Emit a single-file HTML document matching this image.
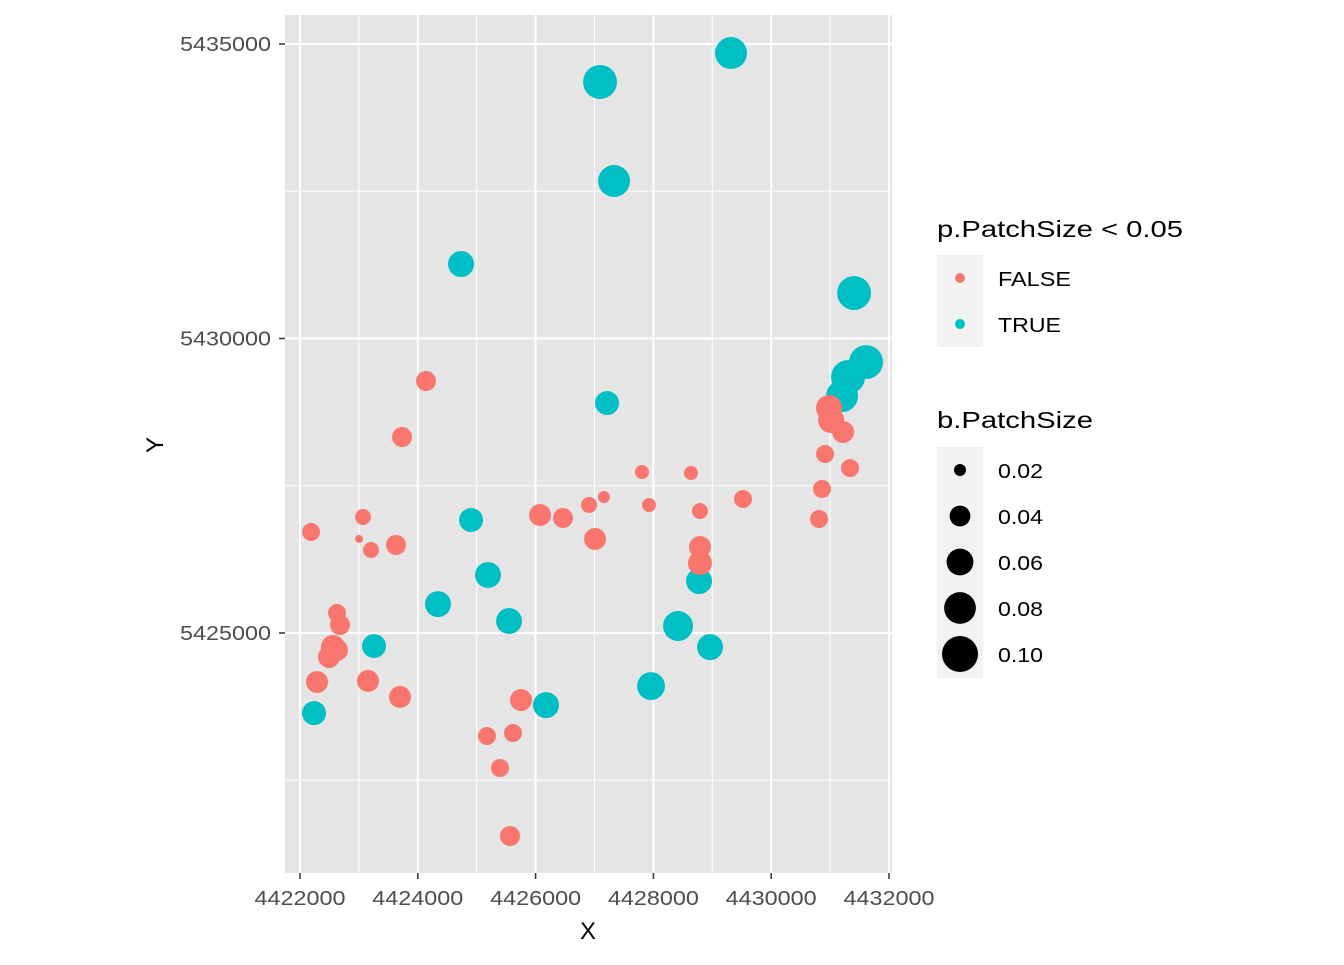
<!DOCTYPE html>
<html><head><meta charset="utf-8"><style>
body{margin:0;background:#fff;}
svg text{font-family:"Liberation Sans",Arial,sans-serif;}
</style></head><body>
<svg id="chart" width="1344" height="960" xmlns="http://www.w3.org/2000/svg">
<rect x="285" y="15" width="607" height="858" fill="#e5e5e5"/>
<g id="grid"></g><g id="points"></g><g id="axes"></g>
<text x="588" y="939" font-size="24" text-anchor="middle">X</text>
<text transform="translate(163,445) rotate(-90)" font-size="24" text-anchor="middle">Y</text>
<g>
<text x="937" y="237" font-size="23" textLength="246" lengthAdjust="spacingAndGlyphs">p.PatchSize &lt; 0.05</text>
<rect x="937" y="255" width="46" height="92" fill="#f2f2f2"/>
<circle cx="960" cy="278" r="5" fill="#F8766D"/>
<text x="998" y="286" font-size="20" textLength="73" lengthAdjust="spacingAndGlyphs">FALSE</text>
<circle cx="960" cy="324" r="5" fill="#00BFC4"/>
<text x="998" y="332" font-size="20" textLength="63" lengthAdjust="spacingAndGlyphs">TRUE</text>
</g>
<g id="sizeLegend">
<text x="937" y="428" font-size="23" textLength="156" lengthAdjust="spacingAndGlyphs">b.PatchSize</text>
<rect x="937" y="447" width="46" height="231" fill="#f2f2f2"/>
</g>
<script>
const sig=[
1,1,1,1,1,1,1,1,1,1,1,1,1,1,1,1,1,1,1,1,
0,0,0,0,0,0,0,0,0,0,0,0,0,0,0,0,0,0,0,0,0,0,0,0,0,0,0,0,0,0,0,0,0,0,0,0,0,0,0];
const xs=[4427094,4429318,4427332,4424734,4431407,4431611,4431305,4431203,4427213,4424904,4425192,4424343,4425549,4423257,4428775,4428418,4428962,4427960,4426177,4422238,
4424139,4423732,4430982,4431016,4431219,4430914,4431338,4430863,4430812,4427806,4428638,4427161,4427925,4426907,4428791,4429521,4426075,4426465,4427009,4428791,4428791,4422187,4423070,4423002,4423205,4423630,4422628,4422679,4422560,4422628,4422492,4422289,4423155,4423698,4425752,4425175,4425616,4425396,4425565];
const ys=[5434355,5434847,5432674,5431264,5430772,5429600,5429346,5429023,5428904,5426918,5425984,5425491,5425203,5424778,5425881,5425118,5424761,5424099,5423776,5423640,
5429278,5428327,5428820,5428616,5428413,5428039,5427801,5427445,5426935,5427733,5427716,5427309,5427173,5427173,5427071,5427275,5427003,5426952,5426596,5426460,5426188,5426715,5426969,5426596,5426409,5426494,5425340,5425136,5424762,5424711,5424592,5424168,5424185,5423913,5423862,5423251,5423302,5422708,5421553];
const bs=[0.09,0.081,0.081,0.057,0.09,0.09,0.09,0.081,0.05,0.05,0.057,0.057,0.057,0.05,0.057,0.0725,0.057,0.064,0.057,0.05,
0.0378,0.0378,0.057,0.057,0.0436,0.0325,0.0325,0.0325,0.0325,0.0236,0.0236,0.02,0.0236,0.0278,0.0278,0.0325,0.0436,0.0378,0.0436,0.0436,0.05,0.0325,0.0278,0.0144,0.0278,0.0378,0.0325,0.0378,0.05,0.0436,0.0436,0.0436,0.0436,0.0436,0.0436,0.0325,0.0325,0.0325,0.0378];
const xTicks=[4422000,4424000,4426000,4428000,4430000,4432000];
const yTicks=[5425000,5430000,5435000];
const sizeBreaks=[0.02,0.04,0.06,0.08,0.10];
const NS="http://www.w3.org/2000/svg";
const k=58.9/1000;
const sx=v=>300+(v-4422000)*k;
const sy=v=>44+(5435000-v)*k;
const rs=b=>Math.sqrt(Math.max(4,b*3600-36));
function mk(tag,attrs,parent){const e=document.createElementNS(NS,tag);for(const a in attrs)e.setAttribute(a,attrs[a]);parent.appendChild(e);return e;}
const grid=document.getElementById('grid'),axes=document.getElementById('axes'),pts=document.getElementById('points');
for(let v=4421000;v<=4433000;v+=2000){const x=sx(v);if(x<285||x>892)continue;const l=mk('line',{x1:x,x2:x,y1:15,y2:873,stroke:'#fff','stroke-width':1},grid);

}
for(let v=5420000;v<=5437500;v+=2500){if(v%5000===0)continue;const y=sy(v);if(y<15||y>873)continue;const l=mk('line',{x1:285,x2:892,y1:y,y2:y,stroke:'#fff','stroke-width':1},grid);

}
xTicks.forEach(v=>{const x=sx(v);const l=mk('line',{x1:x,x2:x,y1:15,y2:873,stroke:'#fff','stroke-width':2},grid);


const t=mk('line',{x1:x,x2:x,y1:873,y2:879,stroke:'#333','stroke-width':1.5},axes);


const tx=mk('text',{x:x,y:905,'font-size':20,fill:'#4d4d4d','text-anchor':'middle',textLength:91,lengthAdjust:'spacingAndGlyphs'},axes);tx.textContent=v;

});
yTicks.forEach(v=>{const y=sy(v);const l=mk('line',{x1:285,x2:892,y1:y,y2:y,stroke:'#fff','stroke-width':2},grid);


const t=mk('line',{x1:279,x2:285,y1:y,y2:y,stroke:'#333','stroke-width':1.5},axes);


const tx=mk('text',{x:271,y:y+7,'font-size':20,fill:'#4d4d4d','text-anchor':'end',textLength:91,lengthAdjust:'spacingAndGlyphs'},axes);tx.textContent=v;

});
xs.forEach((v,i)=>{const c=mk('circle',{cx:sx(v),cy:sy(ys[i]),r:rs(bs[i]),fill:sig[i]?'#00BFC4':'#F8766D'},pts);

});
const sl=document.getElementById('sizeLegend');
sizeBreaks.forEach((b,i)=>{const y=470+i*46;const c=mk('circle',{cx:960,cy:y,r:rs(b),fill:'#000'},sl);


const t=mk('text',{x:998,y:y+8,'font-size':20,textLength:45,lengthAdjust:'spacingAndGlyphs'},sl);t.textContent=b.toFixed(2);

});
</script>
</svg>
</body></html>
